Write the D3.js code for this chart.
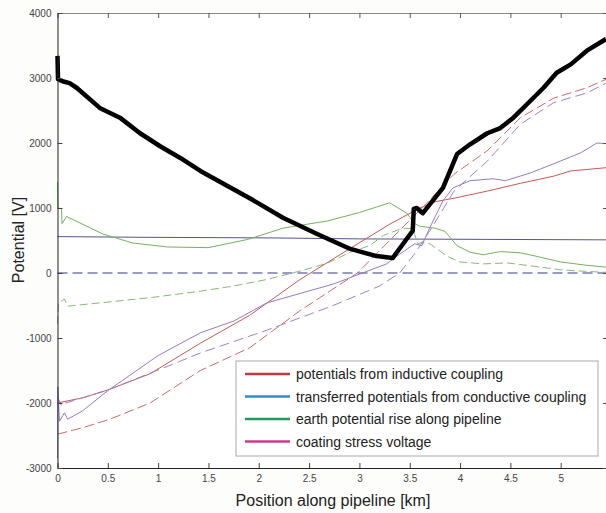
<!DOCTYPE html>
<html>
<head>
<meta charset="utf-8">
<script src="https://cdn.jsdelivr.net/npm/d3@7"></script>
<style>
  body { margin: 0; background: #fdfdfb; }
  svg { display: block; font-family: "Liberation Sans", Arial, sans-serif; }
</style>
</head>
<body>
<div id="chart"></div>
<script>
// Series, [position km, potential V]
const totalPotential = [[0,3340],[0.005,2980],[0.05,2950],[0.12,2920],[0.19,2850],[0.42,2540],[0.62,2390],[0.82,2150],[1.02,1950],[1.22,1770],[1.42,1570],[1.91,1150],[2.24,850],[2.58,600],[2.91,370],[3.17,260],[3.33,230],[3.53,650],[3.54,985],[3.57,1000],[3.63,920],[3.83,1310],[3.97,1830],[4.1,1980],[4.27,2150],[4.4,2230],[4.53,2390],[4.7,2650],[4.83,2850],[4.96,3080],[5.1,3210],[5.26,3420],[5.45,3600]];
const inductiveSolid = [[0,-2000],[0.25,-1920],[0.5,-1800],[0.92,-1550],[1.42,-1080],[1.91,-650],[2.41,-100],[2.91,380],[3.3,750],[3.6,1000],[3.76,1100],[3.94,1150],[4.27,1260],[4.6,1380],[4.93,1490],[5.1,1570],[5.45,1620]];
const inductiveDashed = [[0,-2480],[0.25,-2380],[0.52,-2250],[0.92,-2000],[1.42,-1500],[1.91,-1150],[2.41,-580],[2.98,0],[3.3,500],[3.64,1030],[3.94,1520],[4.27,1880],[4.6,2390],[4.93,2690],[5.26,2850],[5.45,2980]];
const conductiveSolid = [[0,560],[0.8,550],[2.1,540],[3.0,525],[5.45,510]];
const conductiveDashed = [[0,0],[5.45,0]];
const earthSolid = [[0,1400],[0.003,1000],[0.04,990],[0.045,760],[0.09,870],[0.45,600],[0.75,460],[1.1,400],[1.5,390],[1.9,520],[2.24,690],[2.68,800],[3.0,930],[3.3,1080],[3.47,920],[3.55,760],[3.6,720],[3.75,690],[3.85,640],[3.97,420],[4.1,320],[4.23,280],[4.4,330],[4.6,310],[4.75,260],[5.0,170],[5.25,120],[5.45,90]];
const earthDashed = [[0,-780],[0.01,-460],[0.07,-400],[0.1,-510],[0.42,-460],[0.92,-380],[1.42,-280],[1.75,-200],[2.08,-100],[2.41,30],[2.68,150],[2.91,320],[3.1,420],[3.24,580],[3.43,690],[3.53,680],[3.58,450],[3.62,470],[3.7,450],[3.87,260],[4.0,170],[4.23,140],[4.47,155],[4.7,110],[5.0,50],[5.25,25],[5.45,10]];
const coatingSolid = [[0,-2850],[0.003,-1750],[0.02,-2280],[0.07,-2150],[0.1,-2250],[0.25,-2120],[0.5,-1810],[1.0,-1270],[1.42,-920],[1.75,-740],[2.08,-460],[2.74,-170],[3.27,140],[3.4,290],[3.55,450],[3.62,420],[3.7,700],[3.83,1110],[3.93,1310],[4.1,1420],[4.33,1450],[4.45,1420],[4.7,1540],[4.93,1680],[5.2,1850],[5.36,2000],[5.45,1990]];
const coatingDashed = [[0,-1900],[0.04,-2050],[0.08,-2000],[0.25,-1920],[0.5,-1800],[1.15,-1400],[1.42,-1230],[1.91,-970],[2.08,-880],[2.74,-500],[3.2,-200],[3.4,0],[3.55,300],[3.7,650],[3.94,1260],[4.27,1720],[4.6,2290],[4.93,2620],[5.26,2770],[5.45,2920]];

const xTicks = [0, 0.5, 1, 1.5, 2, 2.5, 3, 3.5, 4, 4.5, 5];
const yTicks = [-3000, -2000, -1000, 0, 1000, 2000, 3000, 4000];
const legendLabels = ["potentials from inductive coupling", "transferred potentials from conductive coupling", "earth potential rise along pipeline", "coating stress voltage"];
const legendColors = ["#c8383a", "#2b8fc2", "#1f9a5a", "#d4378c"];

const W = 606, H = 513;
const plotLeft = 57.5, plotRight = 608, plotTop = 13, plotBottom = 468;

const svg = d3.select("#chart").append("svg")
    .attr("width", W)
    .attr("height", H);

svg.append("rect").attr("x", plotLeft).attr("y", plotTop)
    .attr("width", plotRight - plotLeft).attr("height", plotBottom - plotTop)
    .attr("fill", "#ffffff");

const x = d3.scaleLinear().domain([0, 5.47]).range([plotLeft, plotRight]);
const y = d3.scaleLinear().domain([-3000, 4000]).range([plotBottom, plotTop]);

const line = d3.line().x(d => x(d[0])).y(d => y(d[1]));

// series, thin ones first, black total on top
const series = [
    { data: conductiveDashed, color: "#9a9ac6", width: 2, dash: "10,5" },
    { data: conductiveSolid, color: "#55558f", width: 1, dash: null },
    { data: earthSolid, color: "#74b25e", width: 1, dash: null },
    { data: earthDashed, color: "#84bc70", width: 1, dash: "8,4" },
    { data: inductiveSolid, color: "#c45a58", width: 1, dash: null },
    { data: inductiveDashed, color: "#cc6a6a", width: 1, dash: "10,4" },
    { data: coatingSolid, color: "#987ac4", width: 1, dash: null },
    { data: coatingDashed, color: "#a080ca", width: 1, dash: "10,5" },
    { data: totalPotential, color: "#000000", width: 4.5, dash: null }
];

series.forEach(s => {
    svg.append("path")
        .datum(s.data)
        .attr("fill", "none")
        .attr("stroke", s.color)
        .attr("stroke-width", s.width)
        .attr("stroke-dasharray", s.dash)
        .attr("stroke-linejoin", "round")
        .attr("d", line);
});

// axes
const tickCol = "#444";
svg.append("g")
    .attr("transform", `translate(0,${plotBottom})`)
    .call(d3.axisBottom(x).tickValues(xTicks).tickSizeInner(-5).tickSizeOuter(0).tickPadding(7)
        .tickFormat(d => String(d)))
    .call(g => g.select(".domain").attr("stroke", "#222"))
    .call(g => g.selectAll("line").attr("stroke", "#444"))
    .call(g => g.selectAll("text").attr("fill", tickCol).style("font-size", "10px"));

svg.append("g")
    .attr("transform", `translate(0,${plotTop})`)
    .call(d3.axisTop(x).tickValues(xTicks).tickSizeInner(-5).tickSizeOuter(0).tickFormat(""))
    .call(g => g.select(".domain").attr("stroke", "#888"))
    .call(g => g.selectAll("line").attr("stroke", "#555"));

svg.append("g")
    .attr("transform", `translate(${plotLeft},0)`)
    .call(d3.axisLeft(y).tickValues(yTicks).tickSizeInner(-5).tickSizeOuter(0).tickPadding(6)
        .tickFormat(d => String(d)))
    .call(g => g.select(".domain").attr("stroke", "#222"))
    .call(g => g.selectAll("line").attr("stroke", "#444"))
    .call(g => g.selectAll("text").attr("fill", tickCol).style("font-size", "10px"));

svg.append("g")
    .attr("transform", `translate(${plotRight},0)`)
    .call(d3.axisRight(y).tickValues(yTicks).tickSizeInner(-5).tickSizeOuter(0).tickFormat(""))
    .call(g => g.select(".domain").attr("stroke", "#888"))
    .call(g => g.selectAll("line").attr("stroke", "#555"));

// axis titles
svg.append("text")
    .attr("x", 333)
    .attr("y", 506)
    .attr("text-anchor", "middle")
    .style("font-size", "16px")
    .attr("fill", "#222")
    .text("Position along pipeline [km]");

svg.append("text")
    .attr("transform", `translate(24,${240}) rotate(-90)`)
    .attr("text-anchor", "middle")
    .style("font-size", "16px")
    .attr("fill", "#222")
    .text("Potential [V]");

// legend
const legend = svg.append("g").attr("transform", "translate(236,361)");
legend.append("rect")
    .attr("width", 362)
    .attr("height", 95)
    .attr("fill", "#ffffff")
    .attr("stroke", "#aaa")
    .attr("stroke-width", 1);

legendLabels.forEach((label, i) => {
    const ly = 13 + i * 22.5;
    legend.append("line")
        .attr("x1", 9).attr("x2", 54)
        .attr("y1", ly).attr("y2", ly)
        .attr("stroke", legendColors[i])
        .attr("stroke-width", 2.5);
    legend.append("text")
        .attr("x", 60)
        .attr("y", ly + 5)
        .style("font-size", "14px")
        .attr("fill", "#222")
        .text(label);
});
</script>
</body>
</html>
